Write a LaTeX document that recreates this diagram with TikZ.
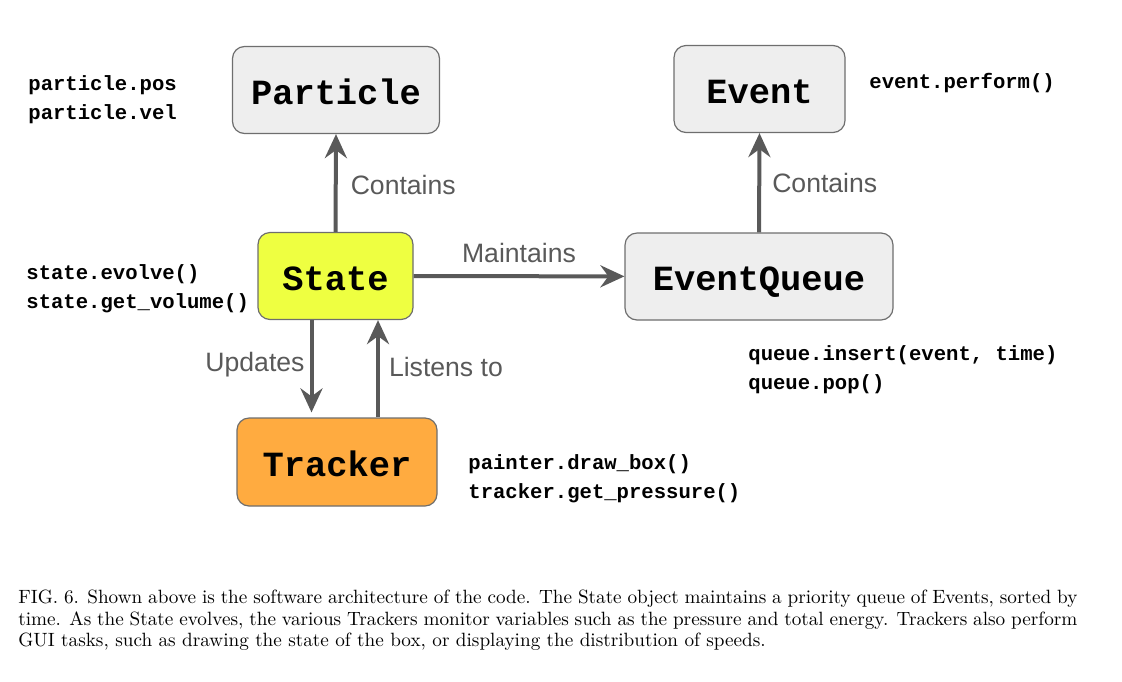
\documentclass[tikz,border=0pt]{standalone}
\usepackage{fontspec}
\setmonofont{Liberation Mono}
\newfontfamily\labelfont{Liberation Sans}
\usetikzlibrary{arrows.meta,positioning}
\definecolor{boxgray}{HTML}{EEEEEE}
\definecolor{edgegray}{HTML}{6E6E6E}
\definecolor{arrowgray}{HTML}{595959}
\definecolor{statelime}{HTML}{EEFF41}
\definecolor{trackerorange}{HTML}{FFAB40}
\begin{document}
\begin{tikzpicture}[
        x=0.5pt, y=-0.5pt,
        box/.style={
            draw=edgegray, line width=0.6pt, rounded corners=6pt,
            minimum height=43.5pt, inner sep=0pt,
            text height=14pt, text depth=0pt,
            font=\fontsize{17.7}{20}\selectfont\ttfamily\bfseries
        },
        link/.style={draw=arrowgray, line width=2pt,
            -{Stealth[length=12pt, width=11pt, inset=4pt]}},
        linklabel/.style={font=\fontsize{13.3}{15}\selectfont\labelfont,
            text=arrowgray, inner sep=0pt},
        code/.style={font=\fontsize{10.3}{14.5}\selectfont\ttfamily\bfseries,
            align=left, anchor=north west, inner sep=0pt},
        caption/.style={font=\fontsize{9.6}{10.75}\selectfont,
            anchor=north west, inner sep=0pt, text width=529.5pt, align=justify}
    ]
        \useasboundingbox (0,0) rectangle (1122,681);

        % Objetos
        \node[box, fill=boxgray, minimum width=103.5pt] (particle) at (336,90) {Particle};
        \node[box, fill=boxgray, minimum width=85.5pt] (event) at (759.5,89) {Event};
        \node[box, fill=statelime, minimum width=77.5pt] (state) at (335.5,276) {State};
        \node[box, fill=boxgray, minimum width=134pt] (queue) at (759,276.5) {EventQueue};
        \node[box, fill=trackerorange, minimum width=100pt, minimum height=44pt] (tracker) at (337,462) {Tracker};

        % Relaciones
        \draw[link] (state.north) -- (particle.south)
            node[linklabel, midway, right=6.5pt, yshift=-1pt] {Contains};
        \draw[link] (queue.north) -- (event.south)
            node[linklabel, midway, right=5.5pt] {Contains};
        \draw[link] (state) -- (queue)
            node[linklabel, midway, above=5.5pt] {Maintains};
        \draw[link, shorten >=2.5pt] ([xshift=-12pt]state.south) -- ([xshift=-12pt]state.south |- tracker.north)
            node[linklabel, midway, left=2.5pt, yshift=2pt] {Updates};
        \draw[link] ([xshift=20.5pt]tracker.north) -- ([xshift=20.5pt]tracker.north |- state.south)
            node[linklabel, midway, right=4.5pt, yshift=1pt] {Listens to};

        % Metodos
        \node[code] (particlecode) at (28,75) {particle.pos\\particle.vel};
        \node[code] (eventcode) at (869,73) {event.perform()};
        \node[code] (statecode) at (26,264) {state.evolve()\\state.get\_volume()};
        \node[code] (queuecode) at (748,345.5) {queue.insert(event, time)\\queue.pop()};
        \node[code] (trackercode) at (468,454) {painter.draw\_box()\\tracker.get\_pressure()};

        % Leyenda
        \node[caption] (figcaption) at (18,590) {FIG.~6. Shown above is the software architecture of the code. The State object maintains a priority queue of Events, sorted by\linebreak
            time. As the State evolves, the various Trackers monitor variables such as the pressure and total energy. Trackers also perform\linebreak
            GUI tasks, such as drawing the state of the box, or displaying the distribution of speeds.};

    \end{tikzpicture}
\end{document}
